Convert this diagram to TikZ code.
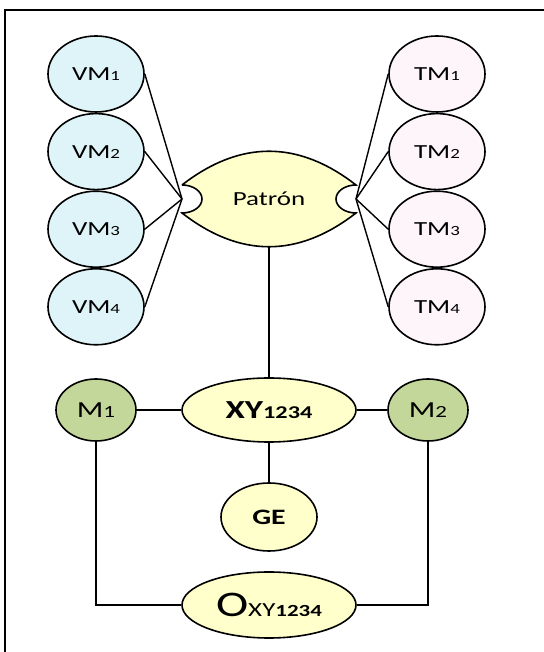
\documentclass[tikz,border=0pt]{standalone}
\usepackage{fontspec}
\setmainfont{Carlito}[FakeStretch=1.35]
\usetikzlibrary{positioning,shapes.geometric}
\definecolor{vmfill}{HTML}{DFF4F8}
\definecolor{tmfill}{HTML}{FDF5FA}
\definecolor{ylwfill}{HTML}{FFFFCC}
\definecolor{mfill}{HTML}{C4D79B}
\newcommand{\idx}[2][7]{{\fontsize{#1}{#1}\selectfont #2}}

\begin{document}
\begin{tikzpicture}[x=0.5pt, y=0.5pt,
					vm/.style={ellipse, draw=black, thick, fill=vmfill, minimum width=48pt, minimum height=38pt, inner sep=0pt},
					tm/.style={ellipse, draw=black, thick, fill=tmfill, minimum width=48pt, minimum height=38pt, inner sep=0pt},
					core/.style={ellipse, draw=black, thick, fill=ylwfill, inner sep=0pt},
					mod/.style={ellipse, draw=black, thick, fill=mfill, minimum width=40pt, minimum height=31pt, inner sep=0pt, font=\fontsize{11.5}{13}\selectfont},
					link/.style={line width=0.7pt}
				]
				\useasboundingbox (0,0) rectangle (544,652);
				\draw[line width=1.3pt] (5,0) -- (5,642) -- (544,642);
				\node[vm] (vmone) at (96,578) {VM\idx{1}};
				\node[vm] (vmtwo) [below=0pt of vmone] {VM\idx{2}};
				\node[vm] (vmthree) [below=0pt of vmtwo] {VM\idx{3}};
				\node[vm] (vmfour) [below=0pt of vmthree] {VM\idx{4}};
				\node[tm] (tmone) at (437,578) {TM\idx{1}};
				\node[tm] (tmtwo) [below=0pt of tmone] {TM\idx{2}};
				\node[tm] (tmthree) [below=0pt of tmtwo] {TM\idx{3}};
				\node[tm] (tmfour) [below=0pt of tmthree] {TM\idx{4}};
				\draw[thick, fill=ylwfill] (182,467) .. controls (240,512) and (298,512) .. (356,467)
					arc[start angle=90, end angle=270, x radius=20, y radius=14]
					.. controls (298,394) and (240,394) .. (182,439)
					arc[start angle=-90, end angle=90, x radius=20, y radius=14];
				\coordinate (patronleft) at (182,453);
				\coordinate (patronright) at (356,453);
				\coordinate (patronbottom) at (269,405);
				\node (patron) at (269,453) {Patrón};
				\node[core, minimum width=87pt, minimum height=32pt] (xy) at (269,242) {\fontsize{13}{15}\selectfont\bfseries XY\idx[9]{\bfseries 1234}};
				\node[mod] (mone) at (96,242) {M\idx[8.5]{1}};
				\node[mod] (mtwo) at (428,242) {M\idx[8.5]{2}};
				\node[core, minimum width=48pt, minimum height=34pt] (ge) at (269,135) {\fontsize{11}{13}\selectfont\bfseries GE};
				\node[core, minimum width=87pt, minimum height=33pt] (oxy) at (269,47) {{\fontsize{18}{20}\selectfont O}XY\idx[8.5]{\bfseries 1234}};
				\begin{scope}[link]
				\draw (vmone.east) -- (patronleft);
				\draw (vmtwo.east) -- (patronleft);
				\draw (vmthree.east) -- (patronleft);
				\draw (vmfour.east) -- (patronleft);
				\draw (tmone.west) -- (patronright);
				\draw (tmtwo.west) -- (patronright);
				\draw (tmthree.west) -- (patronright);
				\draw (tmfour.west) -- (patronright);
				\draw (patronbottom) -- (xy.north);
				\draw (mone.east) -- (xy.west);
				\draw (xy.east) -- (mtwo.west);
				\draw (xy.south) -- (ge.north);
				\draw (mone.south) |- (oxy.west);
				\draw (mtwo.south) |- (oxy.east);
				\end{scope}
				\end{tikzpicture}
\end{document}
